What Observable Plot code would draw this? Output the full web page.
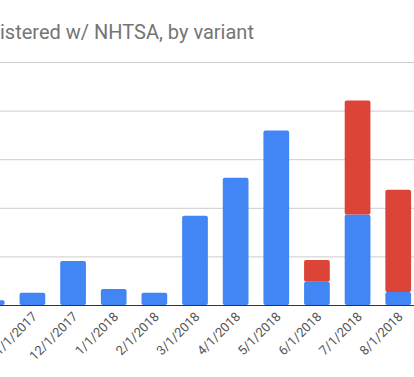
<!DOCTYPE html>
<html>
<head>
<meta charset="utf-8">
<script src="https://cdn.jsdelivr.net/npm/d3@7"></script>
<script src="https://cdn.jsdelivr.net/npm/@observablehq/plot@0.6"></script>
<style>
  html, body { margin: 0; padding: 0; background: #fff; }
  body { width: 414px; height: 377px; overflow: hidden; position: relative; font-family: Roboto, sans-serif; }
  #title { position: absolute; left: 0; top: 0; font-size: 20px; color: #757575; white-space: nowrap; line-height: 1; padding-top: 22px; }
  #chart { position: absolute; left: -76px; top: 0; width: 512px; height: 377px; }
  #chart svg { max-width: none !important; display: block; }
</style>
</head>
<body>
<div id="title">istered w/ NHTSA, by variant</div>
<div id="chart"></div>
<script>
const months = ["10/1/2017", "11/1/2017", "12/1/2017", "1/1/2018", "2/1/2018", "3/1/2018", "4/1/2018", "5/1/2018", "6/1/2018", "7/1/2018", "8/1/2018"];
const variants = ["RWD", "AWD"];
const rwd = [1000, 2540, 9070, 3300, 2540, 18350, 26190, 35880, 4800, 18620, 2680];
const awd = [0, 0, 0, 0, 0, 0, 0, 0, 4480, 23440, 21030];
const yTicks = [0, 10000, 20000, 30000, 40000, 50000];
const colors = ["#4285f4", "#db4437"];

const data = [];
months.forEach((m, i) => data.push({month: m, variant: variants[0], value: rwd[i]}));
months.forEach((m, i) => data.push({month: m, variant: variants[1], value: awd[i]}));

const chart = Plot.plot({
  width: 512,
  height: 377,
  marginLeft: 40,
  marginRight: 10,
  marginTop: 62,
  marginBottom: 72,
  style: {fontFamily: "Roboto, sans-serif", background: "transparent", maxWidth: "none"},
  x: {domain: months, padding: 0.367, round: false, label: null},
  y: {domain: [0, 50000], label: null, axis: null},
  color: {domain: variants, range: colors},
  marks: [
    Plot.gridY(yTicks, {stroke: "#cccccc", strokeOpacity: 1}),
    Plot.barY(data, {x: "month", y: "value", fill: "variant", rx: 2}),
    Plot.ruleY([0], {stroke: "#333333", strokeWidth: 1}),
    Plot.axisX({tickRotate: -45, tickSize: 0, tickPadding: 6, dx: 2, dy: 3, fontSize: 13, fill: "#555555", label: null})
  ]
});
document.getElementById("chart").appendChild(chart);
</script>
</body>
</html>
